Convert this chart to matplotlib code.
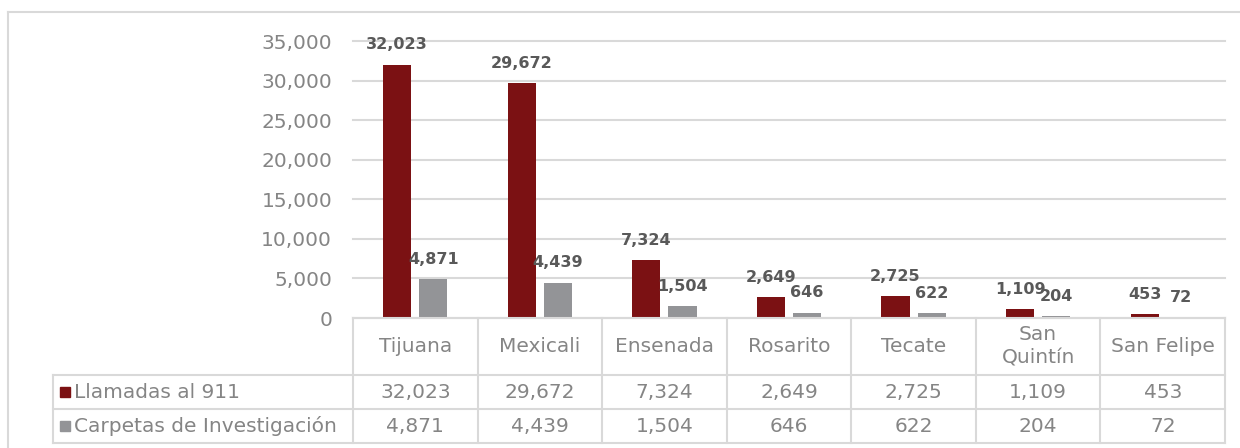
import numpy as np
import matplotlib
matplotlib.use("Agg")
import matplotlib.pyplot as plt
from matplotlib.patches import Rectangle
from matplotlib.lines import Line2D
import matplotlib.transforms as mtransforms

municipios = ["Tijuana", "Mexicali", "Ensenada", "Rosarito", "Tecate", "San\nQuintín", "San Felipe"]
llamadas = [32023, 29672, 7324, 2649, 2725, 1109, 453]
carpetas = [4871, 4439, 1504, 646, 622, 204, 72]
series_names = ["Llamadas al 911", "Carpetas de Investigación"]
yticks = [0, 5000, 10000, 15000, 20000, 25000, 30000, 35000]

RED = "#7b1113"
GRAY = "#939497"
GRID = "#d9d9d9"
TXT = "#858585"
LBL = "#595959"

plt.rcParams['font.family'] = ['DejaVu Sans']

W, H = 1240, 448
fig = plt.figure(figsize=(W / 100, H / 100), dpi=100)

# outer frame of the chart area
fig.add_artist(Line2D([8 / W, 8 / W], [0, 1 - 12 / H], transform=fig.transFigure, color=GRID, lw=1.5))
fig.add_artist(Line2D([8 / W, 1], [1 - 12 / H, 1 - 12 / H], transform=fig.transFigure, color=GRID, lw=1.5))

x0, x1 = 353, 1225
y_top, y_zero = 41, 318
ax = fig.add_axes([x0 / W, (H - y_zero) / H, (x1 - x0) / W, (y_zero - y_top) / H])

n = len(municipios)
x = np.arange(n)
bw = 0.225
off = 0.145
b1 = ax.bar(x - off, llamadas, bw, color=RED, zorder=3)
b2 = ax.bar(x + off, carpetas, bw, color=GRAY, zorder=3)

for bars, vals in ((b1, llamadas), (b2, carpetas)):
    for r, v in zip(bars, vals):
        ax.annotate(f"{v:,}", (r.get_x() + r.get_width() / 2, v), xytext=(0, 9),
                    textcoords="offset points", ha="center", va="bottom",
                    fontsize=11.5, fontweight="bold", color=LBL, zorder=4)

ax.set_xlim(-0.5, n - 0.5)
ax.set_ylim(0, 35000)
ax.set_yticks(yticks)
ax.set_yticklabels([f"{t:,}" for t in yticks], fontsize=14.5, color=TXT)
ax.tick_params(axis="y", length=0, pad=15)
ax.set_xticks([])
ax.grid(axis="y", color=GRID, lw=1.5, zorder=0)
for gl in ax.get_ygridlines():
    gl.set_clip_on(False)
for s in ax.spines.values():
    s.set_visible(False)

# data table under the axis
def ay(ypix):
    # pixel row in the image -> axes fraction
    return (y_zero - ypix) / (y_zero - y_top)

trans = mtransforms.blended_transform_factory(ax.transData, ax.transAxes)
ftrans = fig.transFigure
r0, r1, r2, r3 = 318, 375, 409, 443
def fy(ypix):
    return 1 - ypix / H

lk = dict(color=GRID, lw=1.5, transform=ftrans)
# horizontal lines
fig.add_artist(Line2D([x0 / W, x1 / W], [fy(r0), fy(r0)], **lk))
for yy in (r1, r2, r3):
    fig.add_artist(Line2D([53 / W, x1 / W], [fy(yy), fy(yy)], **lk))
# vertical lines
cw = (x1 - x0) / n
for i in range(n + 1):
    xx = x0 + i * cw
    fig.add_artist(Line2D([xx / W, xx / W], [fy(r0), fy(r3)], **lk))
fig.add_artist(Line2D([53 / W, 53 / W], [fy(r1), fy(r3)], **lk))

fs = 14.5
for i, name in enumerate(municipios):
    ax.text(i, ay((r0 + r1) / 2), name, transform=trans, ha="center", va="center",
            fontsize=fs, color=TXT, linespacing=1.3, clip_on=False)
    ax.text(i, ay((r1 + r2) / 2), f"{llamadas[i]:,}", transform=trans, ha="center",
            va="center", fontsize=fs, color=TXT, clip_on=False)
    ax.text(i, ay((r2 + r3) / 2), f"{carpetas[i]:,}", transform=trans, ha="center",
            va="center", fontsize=fs, color=TXT, clip_on=False)

for (yy0, yy1), name, col in zip(((r1, r2), (r2, r3)), series_names, (RED, GRAY)):
    yc = (yy0 + yy1) / 2
    fig.add_artist(Rectangle((60 / W, fy(yc + 5)), 10 / W, 10 / H, transform=ftrans,
                             color=col))
    fig.text(74 / W, fy(yc), name, ha="left", va="center", fontsize=fs, color=TXT)

fig.savefig("out.png", dpi=100)
